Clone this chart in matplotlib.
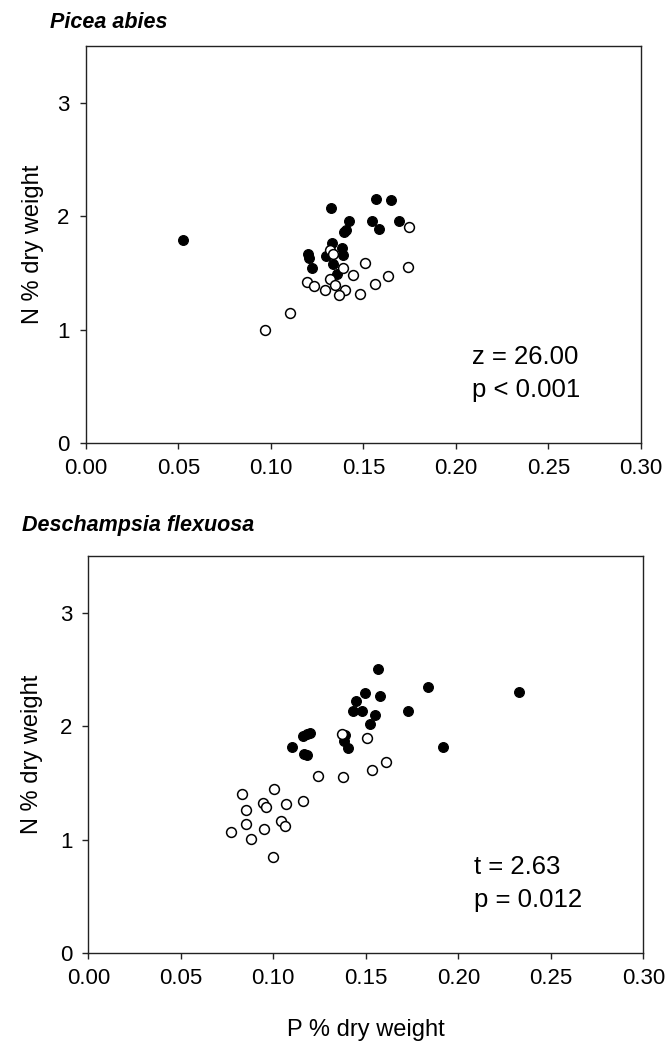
import matplotlib
matplotlib.use("Agg")
import matplotlib.pyplot as plt

plt.rcParams['font.family'] = ['Liberation Sans', 'DejaVu Sans']

# Picea abies: P and N (% dry weight), filled = first group, open = second group
picea_filled_p = [0.0527, 0.1325, 0.1567, 0.1650, 0.1424, 0.1545, 0.1690, 0.1583,
                  0.1406, 0.1395, 0.1329, 0.1383, 0.1388, 0.1203, 0.1208, 0.1298,
                  0.1338, 0.1223, 0.1356]
picea_filled_n = [1.79, 2.07, 2.15, 2.14, 1.96, 1.955, 1.955, 1.89,
                  1.88, 1.86, 1.76, 1.72, 1.66, 1.67, 1.63, 1.65,
                  1.58, 1.54, 1.49]
picea_open_p = [0.1747, 0.1507, 0.1740, 0.1320, 0.1334, 0.1388, 0.1442, 0.1322,
                0.1635, 0.1563, 0.1197, 0.1233, 0.1349, 0.1295, 0.1403, 0.1367,
                0.1482, 0.1102, 0.0967]
picea_open_n = [1.905, 1.586, 1.557, 1.706, 1.668, 1.545, 1.484, 1.449,
                1.475, 1.407, 1.419, 1.384, 1.393, 1.346, 1.346, 1.308,
                1.317, 1.147, 0.995]

# Deschampsia flexuosa
desch_filled_p = [0.1180, 0.1162, 0.1198, 0.1101, 0.1166, 0.1184, 0.1564, 0.1835,
                  0.2328, 0.1497, 0.1575, 0.1447, 0.1429, 0.1480, 0.1550, 0.1727,
                  0.1521, 0.1919, 0.1388, 0.1384, 0.1405]
desch_filled_n = [1.93, 1.917, 1.937, 1.817, 1.756, 1.744, 2.505, 2.347,
                  2.297, 2.288, 2.265, 2.218, 2.13, 2.136, 2.095, 2.136,
                  2.016, 1.817, 1.925, 1.873, 1.809]
desch_open_p = [0.0831, 0.1002, 0.1240, 0.1161, 0.1067, 0.0946, 0.0959, 0.0854,
                0.0854, 0.0950, 0.1043, 0.1062, 0.0773, 0.0879, 0.0998, 0.1370,
                0.1505, 0.1609, 0.1534, 0.1375]
desch_open_n = [1.399, 1.449, 1.565, 1.337, 1.311, 1.322, 1.287, 1.258,
                1.141, 1.097, 1.161, 1.118, 1.071, 1.009, 0.848, 1.932,
                1.896, 1.686, 1.618, 1.55]

xticks = [0.00, 0.05, 0.10, 0.15, 0.20, 0.25, 0.30]
yticks = [0, 1, 2, 3]

fig = plt.figure(figsize=(6.67, 10.42), dpi=100)
ax1 = fig.add_axes([0.1285, 0.5746, 0.8325, 0.3813])
ax2 = fig.add_axes([0.1324, 0.0851, 0.832, 0.3816])


def panel(ax, fp, fn, op, on, stat, pval, ylab_x):
    ax.scatter(fp, fn, s=50, c='black', edgecolors='black', linewidths=0.8, zorder=3)
    ax.scatter(op, on, s=50, facecolors='white', edgecolors='black', linewidths=1.1, zorder=4)
    ax.set_xlim(0, 0.30)
    ax.set_ylim(0, 3.5)
    ax.set_xticks(xticks)
    ax.set_xticklabels(['%.2f' % t for t in xticks])
    ax.set_yticks(yticks)
    ax.tick_params(direction='out', length=4.5, width=1, labelsize=16, color='#222222')
    ax.tick_params(axis='x', pad=6)
    ax.tick_params(axis='y', pad=7)
    for sp in ax.spines.values():
        sp.set_linewidth(1.0)
        sp.set_color('#222222')
    ax.set_ylabel('N % dry weight', fontsize=17)
    ax.yaxis.set_label_coords(ylab_x, 0.5)
    ax.text(0.695, 0.217, stat, transform=ax.transAxes, fontsize=18.5, va='center', ha='left')
    ax.text(0.695, 0.134, pval, transform=ax.transAxes, fontsize=18.5, va='center', ha='left')


panel(ax1, picea_filled_p, picea_filled_n, picea_open_p, picea_open_n,
      'z = 26.00', 'p < 0.001', -0.076)
panel(ax2, desch_filled_p, desch_filled_n, desch_open_p, desch_open_n,
      't = 2.63', 'p = 0.012', -0.081)

ax2.set_xlabel('P % dry weight', fontsize=17)
ax2.xaxis.set_label_coords(0.5, -0.165)

fig.text(0.075, 0.978, 'Picea abies', fontsize=15.5, fontweight='bold', fontstyle='italic',
         va='center', ha='left')
fig.text(0.033, 0.496, 'Deschampsia flexuosa', fontsize=15.5, fontweight='bold', fontstyle='italic',
         va='center', ha='left')

fig.savefig('out.png', dpi=100)
